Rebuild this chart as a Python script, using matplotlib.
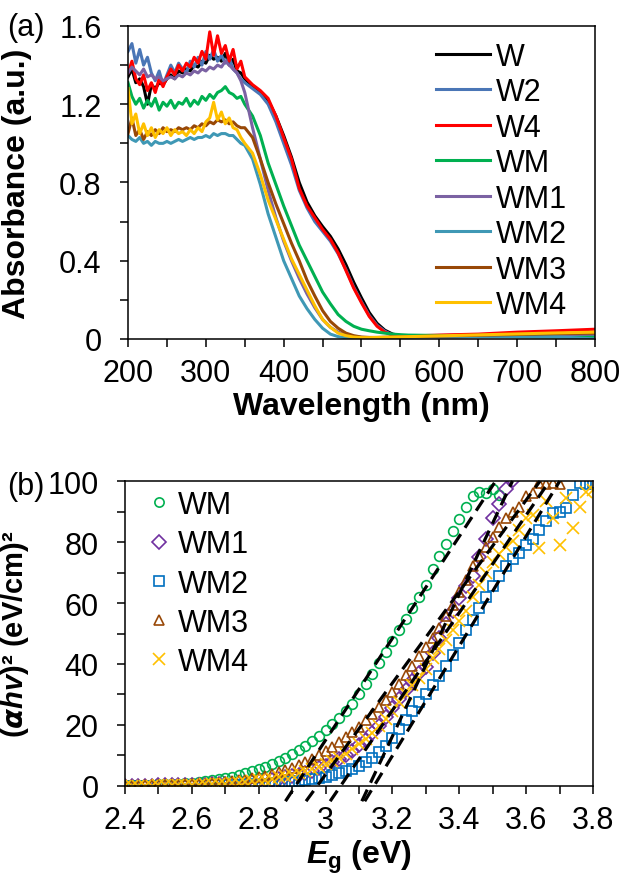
import matplotlib
matplotlib.use('Agg')
import matplotlib.pyplot as plt
import numpy as np
from matplotlib.ticker import MultipleLocator, FuncFormatter

plt.rcParams['font.family'] = ['Liberation Sans', 'DejaVu Sans']
plt.rcParams['mathtext.fontset'] = 'custom'
plt.rcParams['mathtext.it'] = 'Liberation Sans:italic:bold'
plt.rcParams['mathtext.sf'] = 'DejaVu Sans:italic:bold'
plt.rcParams['mathtext.rm'] = 'Liberation Sans:bold'
plt.rcParams['mathtext.bf'] = 'Liberation Sans:bold'

# ---- (a) absorbance spectra ----
wavelength = list(range(200, 351, 5)) + list(range(360, 561, 10)) + [600, 650, 700, 750, 800]

abs_W = [1.34, 1.38, 1.31, 1.33, 1.29, 1.20, 1.30, 1.28, 1.31, 1.30, 1.33, 1.35, 1.33, 1.37, 1.36, 1.38,
         1.37, 1.40, 1.39, 1.42, 1.41, 1.45, 1.43, 1.44, 1.42, 1.46, 1.40, 1.43, 1.37, 1.36, 1.33,
         1.29, 1.26, 1.22, 1.14, 1.04, 0.93, 0.80, 0.70, 0.63, 0.575, 0.525, 0.46, 0.38, 0.29, 0.21,
         0.135, 0.08, 0.045, 0.025, 0.018, 0.016,
         0.018, 0.02, 0.022, 0.024, 0.025]
abs_W2 = [1.47, 1.51, 1.41, 1.48, 1.40, 1.44, 1.36, 1.32, 1.37, 1.30, 1.35, 1.40, 1.36, 1.41, 1.38, 1.36,
          1.42, 1.39, 1.44, 1.40, 1.47, 1.43, 1.48, 1.42, 1.45, 1.41, 1.44, 1.38, 1.36, 1.33, 1.31,
          1.28, 1.25, 1.20, 1.11, 1.00, 0.89, 0.76, 0.67, 0.60, 0.55, 0.50, 0.435, 0.355, 0.265, 0.19,
          0.12, 0.07, 0.04, 0.02, 0.013, 0.012,
          0.012, 0.013, 0.015, 0.017, 0.02]
abs_W4 = [1.36, 1.42, 1.33, 1.30, 1.35, 1.27, 1.31, 1.26, 1.33, 1.29, 1.34, 1.38, 1.35, 1.40, 1.37, 1.41,
          1.39, 1.44, 1.41, 1.47, 1.43, 1.57, 1.45, 1.55, 1.46, 1.50, 1.42, 1.48, 1.38, 1.42, 1.34,
          1.30, 1.27, 1.23, 1.14, 1.03, 0.92, 0.77, 0.68, 0.62, 0.56, 0.51, 0.44, 0.35, 0.26, 0.185,
          0.115, 0.065, 0.035, 0.02, 0.015, 0.015,
          0.02, 0.025, 0.035, 0.042, 0.05]
abs_WM = [1.31, 1.24, 1.20, 1.23, 1.18, 1.22, 1.19, 1.23, 1.17, 1.21, 1.19, 1.22, 1.18, 1.21, 1.20, 1.23,
          1.19, 1.22, 1.20, 1.24, 1.22, 1.25, 1.23, 1.26, 1.27, 1.29, 1.26, 1.25, 1.23, 1.24, 1.20,
          1.14, 1.04, 0.90, 0.79, 0.68, 0.58, 0.48, 0.40, 0.32, 0.24, 0.18, 0.125, 0.09, 0.065, 0.05,
          0.042, 0.035, 0.03, 0.025, 0.022, 0.02,
          0.018, 0.015, 0.012, 0.01, 0.01]
abs_WM1 = [1.36, 1.39, 1.37, 1.35, 1.38, 1.34, 1.35, 1.33, 1.34, 1.32, 1.33, 1.34, 1.33, 1.35, 1.34, 1.36,
           1.35, 1.37, 1.36, 1.38, 1.37, 1.39, 1.38, 1.40, 1.39, 1.42, 1.40, 1.38, 1.36, 1.32, 1.26,
           1.08, 0.92, 0.76, 0.62, 0.50, 0.40, 0.31, 0.23, 0.16, 0.10, 0.06, 0.035, 0.02, 0.012, 0.008,
           0.007, 0.007, 0.008, 0.009, 0.01, 0.011,
           0.014, 0.017, 0.02, 0.023, 0.025]
abs_WM2 = [1.04, 1.02, 1.01, 1.03, 1.00, 1.01, 0.99, 1.01, 1.00, 1.00, 1.01, 1.00, 1.01, 1.02, 1.01, 1.02,
           1.03, 1.02, 1.03, 1.03, 1.04, 1.03, 1.05, 1.04, 1.05, 1.05, 1.04, 1.04, 1.02, 1.00, 0.99,
           0.92, 0.79, 0.64, 0.52, 0.40, 0.31, 0.22, 0.155, 0.10, 0.055, 0.025, 0.012, 0.006, 0.004, 0.004,
           0.005, 0.006, 0.007, 0.008, 0.009, 0.01,
           0.011, 0.012, 0.012, 0.012, 0.0]
abs_WM3 = [1.05, 1.13, 1.04, 1.07, 1.02, 1.06, 1.04, 1.07, 1.05, 1.08, 1.06, 1.07, 1.06, 1.08, 1.07, 1.08,
           1.07, 1.09, 1.08, 1.10, 1.09, 1.11, 1.10, 1.12, 1.11, 1.12, 1.10, 1.11, 1.09, 1.08, 1.08,
           1.03, 0.92, 0.80, 0.69, 0.59, 0.49, 0.40, 0.30, 0.22, 0.145, 0.09, 0.055, 0.03, 0.017, 0.01,
           0.008, 0.008, 0.009, 0.01, 0.011, 0.012,
           0.015, 0.019, 0.023, 0.027, 0.03]
abs_WM4 = [1.28, 1.10, 1.15, 1.05, 1.10, 1.04, 1.08, 1.03, 1.07, 1.05, 1.08, 1.04, 1.07, 1.05, 1.06, 1.04,
           1.07, 1.05, 1.08, 1.06, 1.11, 1.13, 1.21, 1.12, 1.16, 1.10, 1.13, 1.08, 1.07, 1.03, 1.00,
           0.95, 0.84, 0.71, 0.61, 0.51, 0.41, 0.33, 0.25, 0.17, 0.10, 0.06, 0.03, 0.017, 0.01, 0.007,
           0.007, 0.008, 0.009, 0.01, 0.011, 0.012,
           0.016, 0.021, 0.026, 0.031, 0.035]

spectra = [('W', abs_W, 'black'), ('W2', abs_W2, '#4A76B6'), ('W4', abs_W4, '#FF0000'),
           ('WM', abs_WM, '#00B050'), ('WM1', abs_WM1, '#7B62A3'), ('WM2', abs_WM2, '#3F98B5'),
           ('WM3', abs_WM3, '#984807'), ('WM4', abs_WM4, '#FFC000')]

# ---- (b) Tauc plots ----
energy = np.round(np.arange(2.40, 3.801, 0.02), 2)

tauc_WM = [0.2, 0.2, 0.3, 0.3, 0.4, 0.5, 0.6, 0.7, 0.8, 1.0,
           1.1, 1.3, 1.6, 1.9, 2.2, 2.6, 3.0, 3.5, 4.1, 4.8,
           5.5, 6.3, 7.2, 8.2, 9.3, 10.5, 11.8, 13.2, 14.8, 16.5,
           18.3, 20.3, 22.4, 24.6, 27.0, 30.3, 33.5, 36.8, 40.2, 43.8,
           47.5, 51.2, 54.6, 58.4, 62.0, 66.0, 71.0, 75.5, 79.5, 83.5,
           87.5, 91.5, 95.0, 96.5, 96.0, 97.5, 95.5, 104]
tauc_WM1 = [0.0, 0.1, 0.1, 0.1, 0.1, 0.2, 0.2, 0.2, 0.3, 0.3,
            0.3, 0.4, 0.4, 0.5, 0.6, 0.7, 0.8, 0.9, 1.1, 1.3,
            1.5, 1.8, 2.1, 2.4, 2.8, 3.2, 3.7, 4.3, 5.0, 5.8,
            6.7, 7.7, 8.8, 10.1, 11.6, 13.3, 15.2, 17.3, 19.8, 22.6,
            25.5, 28.5, 31.5, 34.5, 37.0, 39.0, 43.5, 48.5, 53.0, 57.5,
            61.5, 65.5, 69.0, 75.0, 81.0, 88.0, 92.5, 97.5, 100.5, 106]
tauc_WM2 = [0.0, 0.0, 0.0, 0.0, 0.1, 0.1, 0.1, 0.1, 0.1, 0.1,
            0.2, 0.2, 0.2, 0.2, 0.3, 0.3, 0.4, 0.4, 0.5, 0.6,
            0.7, 0.8, 0.9, 1.0, 1.2, 1.4, 1.6, 1.9, 2.2, 2.6,
            3.0, 3.5, 4.1, 4.8, 5.6, 6.6, 7.8, 9.2, 11.0, 13.2,
            15.8, 18.6, 21.5, 24.5, 27.5, 30.0, 33.0, 36.0, 39.5, 43.0,
            47.0, 51.0, 54.5, 58.5, 62.0, 65.5, 69.0, 72.0, 74.5, 76.5,
            79.0, 81.0, 84.0, 87.0, 89.5, 90.0, 91.0, 95.5, 99.5, 99.0, 99.5]
tauc_WM3 = [0.1, 0.1, 0.1, 0.2, 0.2, 0.2, 0.3, 0.3, 0.4, 0.5,
            0.6, 0.7, 0.8, 0.9, 1.1, 1.3, 1.5, 1.8, 2.1, 2.5,
            2.9, 3.4, 3.9, 4.5, 5.2, 6.0, 6.9, 7.9, 9.0, 10.2,
            11.5, 12.9, 14.4, 16.0, 17.7, 19.5, 21.5, 23.6, 25.9, 28.3,
            30.9, 33.6, 36.5, 39.5, 42.6, 45.5, 48.5, 51.8, 55.6, 59.5,
            63.5, 67.5, 72.0, 75.5, 78.5, 81.5, 85.0, 88.0, 90.0, 91.5,
            95.0, 96.0, 99.5, 99.0, 99.5, 99.0, 104]
tauc_WM4 = [0.0, 0.1, 0.1, 0.1, 0.1, 0.2, 0.2, 0.2, 0.3, 0.3,
            0.4, 0.4, 0.5, 0.6, 0.7, 0.8, 0.9, 1.1, 1.3, 1.5,
            1.8, 2.1, 2.4, 2.8, 3.2, 3.7, 4.2, 4.8, 5.5, 6.3,
            7.2, 8.2, 9.3, 10.5, 12.0, 13.6, 15.4, 17.4, 19.6, 22.0,
            24.6, 27.4, 30.2, 33.0, 35.5, 38.5, 42.0, 45.0, 48.0, 51.0,
            54.0, 57.5, 62.0, 66.0, 70.0, 73.5, 76.0, 78.5, 80.5, 84.0,
            88.0, 89.0, 78.0, 93.5, 88.0, 79.0, 94.5, 84.5, 91.5, 96.5, 97.0]

# linear fits: band gap (x-intercept) and slope
band_gap = [2.91, 3.13, 3.145, 2.975, 3.045]
fit_slope = [167, 233, 180, 150, 160]

tauc = [('WM', tauc_WM, '#00B050', 'o'), ('WM1', tauc_WM1, '#7030A0', 'D'),
        ('WM2', tauc_WM2, '#0070C0', 's'), ('WM3', tauc_WM3, '#984807', '^'),
        ('WM4', tauc_WM4, '#FFC000', 'x')]

fs = 22
fig = plt.figure(figsize=(6.23, 8.79), dpi=100)
ax1 = fig.add_axes([0.2055, 0.6132, 0.7495, 0.3561])
ax2 = fig.add_axes([0.2006, 0.1047, 0.7512, 0.3469])

for name, vals, col in spectra:
    ax1.plot(wavelength, vals, color=col, lw=2.2, label=name)
ax1.set_xlim(200, 800)
ax1.set_ylim(0, 1.6)
ax1.xaxis.set_major_locator(MultipleLocator(100))
ax1.xaxis.set_minor_locator(MultipleLocator(50))
ax1.yaxis.set_major_locator(MultipleLocator(0.4))
ax1.yaxis.set_minor_locator(MultipleLocator(0.2))
ax1.set_xlabel('Wavelength (nm)', fontsize=23, fontweight='bold', labelpad=2)
ax1.set_ylabel('Absorbance (a.u.)', fontsize=23, fontweight='bold')
ax1.yaxis.set_label_coords(-0.205, 0.5)
ax1.legend(loc='upper left', bbox_to_anchor=(0.66, 0.95), frameon=False, fontsize=fs,
           handlelength=1.75, handletextpad=0.2, labelspacing=0.18, borderpad=0, borderaxespad=0)

for (name, vals, col, mk), eg, k in zip(tauc, band_gap, fit_slope):
    ms = 8.5 if mk == 'x' else 7
    ax2.plot(energy[:len(vals)], vals, ls='none', marker=mk, ms=ms, mfc='none', mec=col,
             mew=1.2, label=name)
for eg, k in zip(band_gap, fit_slope):
    xs = np.array([eg - 5 / k, eg + 100 / k])
    ax2.plot(xs, k * (xs - eg), color='black', lw=2.3, ls=(0, (4, 2.4)), clip_on=False, zorder=5)
ax2.set_xlim(2.4, 3.8)
ax2.set_ylim(0, 100)
ax2.xaxis.set_major_locator(MultipleLocator(0.2))
ax2.xaxis.set_minor_locator(MultipleLocator(0.1))
ax2.yaxis.set_major_locator(MultipleLocator(20))
ax2.yaxis.set_minor_locator(MultipleLocator(10))
ax2.set_xlabel(r'$E_\mathrm{g}$ (eV)', fontsize=23, fontweight='bold', labelpad=2)
ax2.set_ylabel(r'($\mathsf{\alpha}hv$)² (eV/cm)²', fontsize=21, fontweight='bold')
ax2.yaxis.set_label_coords(-0.2, 0.5)
ax2.legend(loc='upper left', bbox_to_anchor=(0.05, 0.97), frameon=False, fontsize=fs,
           handlelength=0.7, handletextpad=0.25, labelspacing=0.3, borderpad=0, borderaxespad=0,
           markerscale=0.95)

fmt = FuncFormatter(lambda v, p: f'{v:g}')
for ax in (ax1, ax2):
    ax.xaxis.set_major_formatter(fmt)
    ax.yaxis.set_major_formatter(fmt)
    ax.tick_params(which='both', direction='out', length=6, width=1.1, labelsize=fs,
                   top=False, right=False)
    ax.tick_params(axis='x', pad=8)
    ax.tick_params(axis='y', pad=13)
    for sp in ax.spines.values():
        sp.set_linewidth(1.1)

fig.text(0.012, 0.968, '(a)', fontsize=fs, va='center', ha='left')
fig.text(0.012, 0.446, '(b)', fontsize=fs, va='center', ha='left')

fig.savefig('out.png', dpi=100)
